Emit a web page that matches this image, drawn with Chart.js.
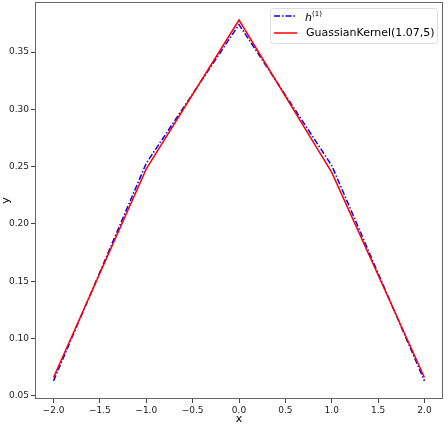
<!DOCTYPE html>
<html>
<head>
<meta charset="utf-8">
<script src="https://cdn.jsdelivr.net/npm/chart.js@4/dist/chart.umd.min.js"></script>
<style>
  html, body { margin: 0; padding: 0; background: #fff; }
  #wrap { width: 448px; height: 426px; }
</style>
</head>
<body>
<div id="wrap"><canvas id="myChart" width="448" height="426"></canvas></div>
<script>
// data
const xs = [-2, -1, 0, 1, 2];
const hValues = [0.063, 0.253, 0.374, 0.251, 0.063];
const kernelValues = [0.066, 0.248, 0.378, 0.245, 0.066];
const xTicks = [-2.0, -1.5, -1.0, -0.5, 0.0, 0.5, 1.0, 1.5, 2.0];
const yTicks = [0.05, 0.10, 0.15, 0.20, 0.25, 0.30, 0.35];

const font = "'DejaVu Sans', sans-serif";
const minus = s => s.replace('-', '\u2212');

// frame round the plot + legend with superscript
const framePlugin = {
  id: 'frame',
  afterDraw(chart) {
    const ctx = chart.ctx;
    const a = chart.chartArea;
    ctx.save();
    ctx.strokeStyle = '#666';
    ctx.lineWidth = 1;
    ctx.strokeRect(Math.round(a.left) + 0.5, Math.round(a.top) + 0.5,
      Math.round(a.right - a.left) - 1, Math.round(a.bottom - a.top) - 1);

    // legend
    const bx = 270, by = 8, bw = 167, bh = 35;
    ctx.fillStyle = 'rgba(255,255,255,0.8)';
    ctx.strokeStyle = '#ddd';
    ctx.beginPath();
    ctx.roundRect(bx + 0.5, by + 0.5, bw, bh, 3);
    ctx.fill();
    ctx.stroke();

    const ds = chart.data.datasets;
    const rows = [by + 8, by + 25];
    ds.forEach((d, i) => {
      ctx.strokeStyle = d.borderColor;
      ctx.lineWidth = d.borderWidth;
      ctx.setLineDash(d.borderDash || []);
      ctx.beginPath();
      ctx.moveTo(bx + 4, rows[i]);
      ctx.lineTo(bx + 27, rows[i]);
      ctx.stroke();
    });
    ctx.setLineDash([]);
    ctx.fillStyle = '#000';
    ctx.textBaseline = 'middle';
    ctx.font = 'italic 11px ' + font;
    ctx.fillText('h', bx + 35, rows[0] + 2);
    ctx.font = '7px ' + font;
    ctx.fillText('(1)', bx + 42, rows[0] - 2);
    ctx.font = '11px ' + font;
    ctx.fillText(ds[1].label, bx + 36, rows[1]);
    ctx.restore();
  }
};

const data = {
  datasets: [{
    label: 'h(1)',
    data: xs.map((x, i) => ({ x: x, y: hValues[i] })),
    borderColor: '#0000ff',
    borderWidth: 1.5,
    borderDash: [6, 2, 1.5, 2],
    pointRadius: 0,
    fill: false,
    tension: 0,
    order: 2,
  },
  {
    label: 'GuassianKernel(1.07,5)',
    data: xs.map((x, i) => ({ x: x, y: kernelValues[i] })),
    borderColor: '#ff0000',
    borderWidth: 1.5,
    pointRadius: 0,
    fill: false,
    tension: 0,
    order: 1,
  }]
};

const config = {
  type: 'line',
  data: data,
  plugins: [framePlugin],
  options: {
    responsive: false,
    animation: false,
    layout: { padding: { top: 2, right: 5, left: 0, bottom: 0 } },
    plugins: {
      legend: { display: false },
      tooltip: { enabled: false },
    },
    scales: {
      x: {
        type: 'linear',
        min: -2.2,
        max: 2.2,
        afterBuildTicks: s => { s.ticks = xTicks.map(v => ({ value: v })); },
        afterFit: s => { s.height = 27; s.paddingLeft = 0; s.paddingRight = 0; },
        grid: { display: true, drawOnChartArea: false, tickLength: 4, color: '#444' },
        border: { display: false },
        ticks: {
          color: '#222', padding: 2, font: { family: font, size: 9 },
          maxRotation: 0, autoSkip: false,
          callback: v => minus(v.toFixed(1)),
        },
        title: { display: true, text: 'x', color: '#000', padding: { top: 0, bottom: 0 }, font: { family: font, size: 11 } },
      },
      y: {
        type: 'linear',
        min: 0.0472,
        max: 0.3937,
        afterBuildTicks: s => { s.ticks = yTicks.map(v => ({ value: v })); },
        afterFit: s => { s.width = 35; s.paddingTop = 0; s.paddingBottom = 0; },
        grid: { display: true, drawOnChartArea: false, tickLength: 4, color: '#444' },
        border: { display: false },
        ticks: {
          color: '#222', padding: 2, font: { family: font, size: 9 },
          autoSkip: false,
          callback: v => v.toFixed(2),
        },
        title: { display: true, text: 'y', color: '#000', padding: { top: 0, bottom: 0 }, font: { family: font, size: 11 } },
      }
    }
  }
};

const myChart = new Chart(document.getElementById('myChart'), config);
</script>
</body>
</html>
